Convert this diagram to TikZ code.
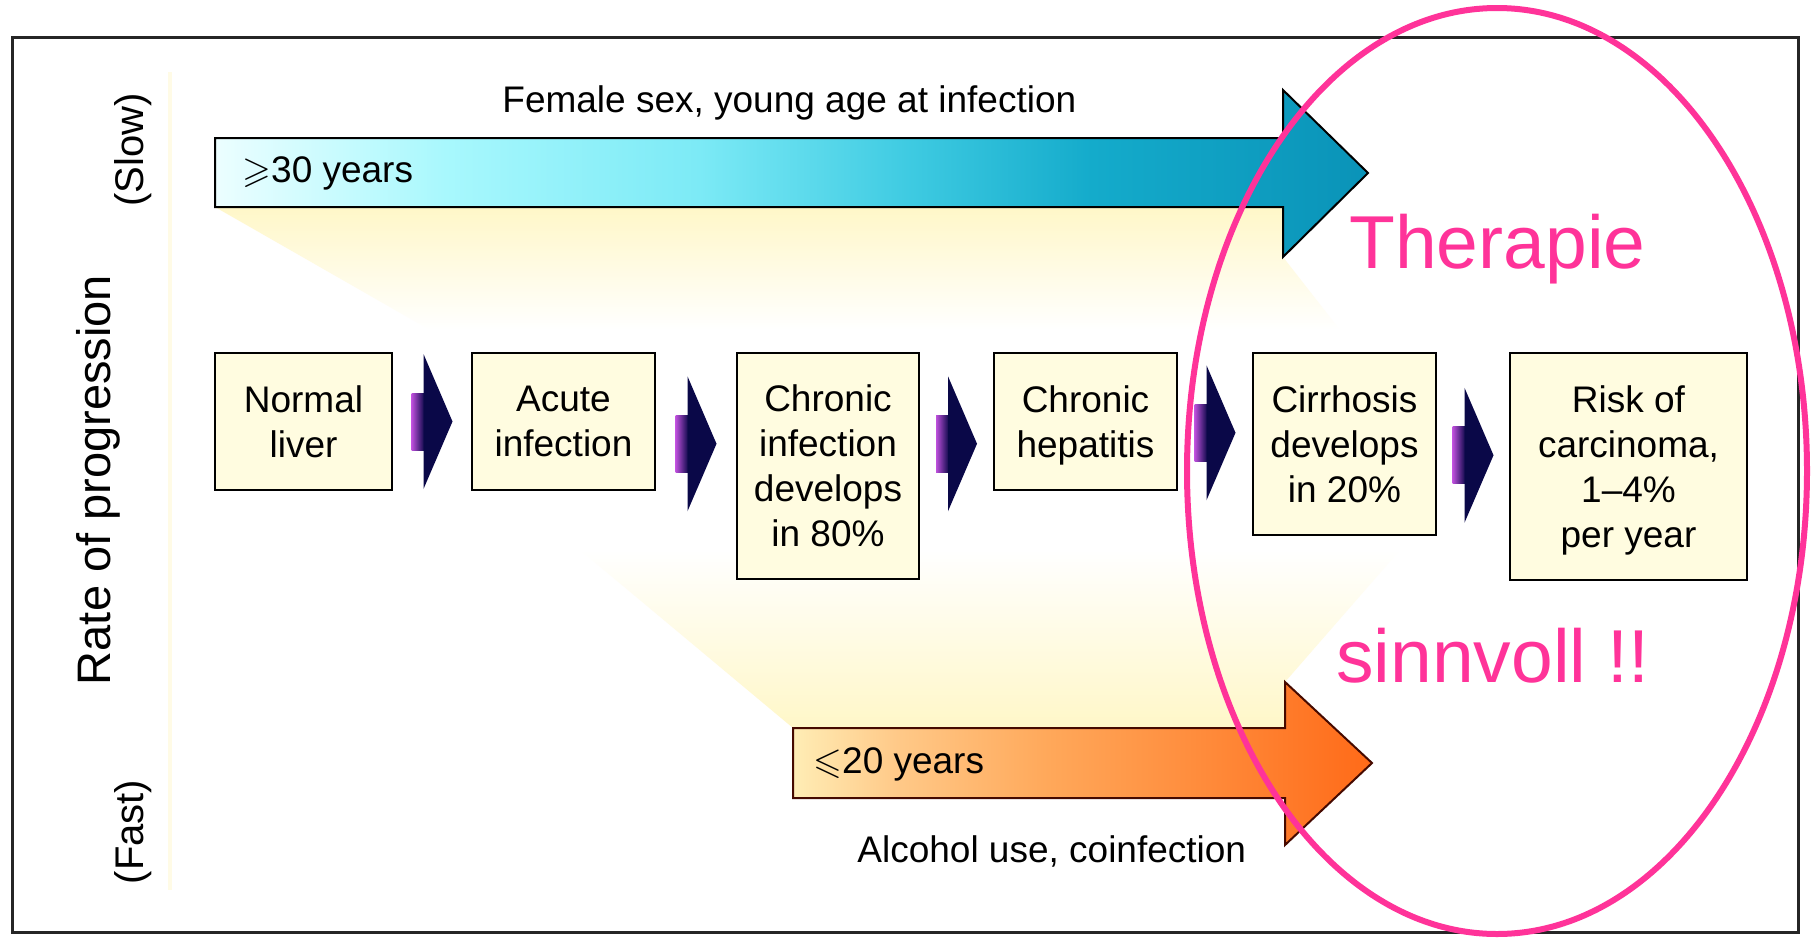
\documentclass[tikz,border=0pt]{standalone}
\usepackage{fontspec}
\usepackage{amssymb}
\setmainfont{Liberation Sans}
\usetikzlibrary{calc}
\definecolor{boxfill}{RGB}{255,252,224}
\definecolor{fanyel}{RGB}{255,247,200}
\definecolor{hpink}{RGB}{255,51,153}
\definecolor{navy}{RGB}{10,8,72}
\definecolor{chevpurple}{RGB}{190,80,220}
\definecolor{bl0}{RGB}{236,254,255}
\definecolor{bl1}{RGB}{168,248,253}
\definecolor{bl2}{RGB}{124,234,246}
\definecolor{bl3}{RGB}{63,203,226}
\definecolor{bl4}{RGB}{20,171,203}
\definecolor{bl5}{RGB}{10,147,184}
\definecolor{or0}{RGB}{255,237,181}
\definecolor{or1}{RGB}{255,201,136}
\definecolor{or2}{RGB}{255,168,90}
\definecolor{or3}{RGB}{255,140,60}
\definecolor{or4}{RGB}{255,106,24}
\definecolor{orline}{RGB}{70,10,0}
\pgfdeclarehorizontalshading{blueshade}{100bp}{color(0bp)=(bl0); color(25bp)=(bl0); color(35bp)=(bl1); color(46bp)=(bl2); color(55bp)=(bl3); color(63bp)=(bl4); color(75bp)=(bl5); color(100bp)=(bl5)}
\pgfdeclarehorizontalshading{orangeshade}{100bp}{color(0bp)=(or0); color(25bp)=(or0); color(34bp)=(or1); color(47bp)=(or2); color(60bp)=(or3); color(75bp)=(or4); color(100bp)=(or4)}
\tikzset{
  stagebox/.style={draw=black, line width=1pt, fill=boxfill, inner sep=0pt,
    align=center, font=\fontsize{18.5pt}{22.5pt}\selectfont, text depth=0pt},
  plain/.style={inner sep=0pt, font=\fontsize{18.5pt}{22pt}\selectfont},
  axislab/.style={inner sep=0pt, rotate=90},
  pinktext/.style={inner sep=0pt, text=hpink, font=\fontsize{37.5pt}{40pt}\selectfont},
  chev/.pic={
    \shade[left color=chevpurple, right color=navy] (-20.5,-28.5) rectangle (-7.5,28.5);
    \fill[navy] (-8.5,-67.5) -- (20.5,0) -- (-8.5,67.5) -- cycle;
  }
}
\begin{document}
\begin{tikzpicture}[x=0.5pt, y=-0.5pt]
\fill[white] (0,0) rectangle (1816,938);
\useasboundingbox (0,0) rectangle (1816,938);
% frame
\draw[line width=1.5pt, black!85] (12,37) rectangle (1798,932);
% faint axis line
\draw[line width=2pt, fanyel!45] (170,72) -- (170,890);
% fans
\shade[top color=fanyel, bottom color=white] (215,207) -- (1283,207) -- (1283,257) -- (1340,330) -- (430,330) -- cycle;
\shade[top color=white, bottom color=fanyel] (580,550) -- (1400,550) -- (1285,682) -- (1285,728) -- (793,728) -- cycle;
% slow arrow
\shadedraw[shading=blueshade, draw=black, line width=1pt, line join=miter]
  (215,138) -- (1283,138) -- (1283,90) -- (1368,173) -- (1283,257) -- (1283,207) -- (215,207) -- cycle;
% fast arrow
\shadedraw[shading=orangeshade, draw=orline, line width=1pt, line join=miter]
  (793,728) -- (1285,728) -- (1285,682) -- (1372,763) -- (1285,845) -- (1285,798) -- (793,798) -- cycle;
% labels on arrows
\node[plain, anchor=base west] (tFemale) at (502,112) {Female sex, young age at infection};
\node[plain, anchor=base west] (t30) at (242,182) {$\geqslant$30 years};
\node[plain, anchor=base west] (t20) at (813,773) {$\leqslant$20 years};
\node[plain, anchor=base west] (tAlc) at (857,862) {Alcohol use, coinfection};
% axis labels
\node[axislab, font=\fontsize{23.5pt}{26pt}\selectfont] (tRate) at (98,480) {Rate of progression};
\node[axislab, font=\fontsize{20pt}{24pt}\selectfont] (tSlow) at (133,150) {(Slow)};
\node[axislab, font=\fontsize{20pt}{24pt}\selectfont] (tFast) at (133,832) {(Fast)};
% stage boxes
\node[stagebox, minimum width=88.5pt, minimum height=68.5pt] (b1) at (303.5,421.5) {Normal\\liver};
\node[stagebox, minimum width=91.5pt, minimum height=68.5pt] (b2) at (563.5,421.5) {Acute\\infection};
\node[stagebox, minimum width=91pt, minimum height=113pt] (b3) at (828,466) {Chronic\\infection\\develops\\in 80\%};
\node[stagebox, minimum width=91.5pt, minimum height=68.5pt] (b4) at (1085.5,421.5) {Chronic\\hepatitis};
\node[stagebox, minimum width=91.5pt, minimum height=91pt] (b5) at (1344.5,444) {Cirrhosis\\develops\\in 20\%};
\node[stagebox, minimum width=118.5pt, minimum height=113.5pt] (b6) at (1628.5,466.5) {Risk of\\carcinoma,\\1–4\%\\per year};
% chevrons between stages
\coordinate (row) at (0,425.5);
\pic at ($(b1.east)!.5!(b2.west)$ |- row) {chev};
\pic at ($(b2.east)!.5!(b3.west)$ |- row) {chev};
\pic at ($(b3.east)!.5!(b4.west)$ |- row) {chev};
\pic at ($(b4.east)!.5!(b5.west)$ |- row) {chev};
\pic at ($(b5.east)!.5!(b6.west)$ |- row) {chev};
% pink annotation
\draw[hpink, line width=3pt] (1497,471) ellipse [x radius=155pt, y radius=231.5pt];
\node[pinktext, anchor=base west] (tTher) at (1349,268) {Therapie};
\node[pinktext, anchor=base west] (tSinn) at (1336,682) {sinnvoll !!};
\end{tikzpicture}
\end{document}
